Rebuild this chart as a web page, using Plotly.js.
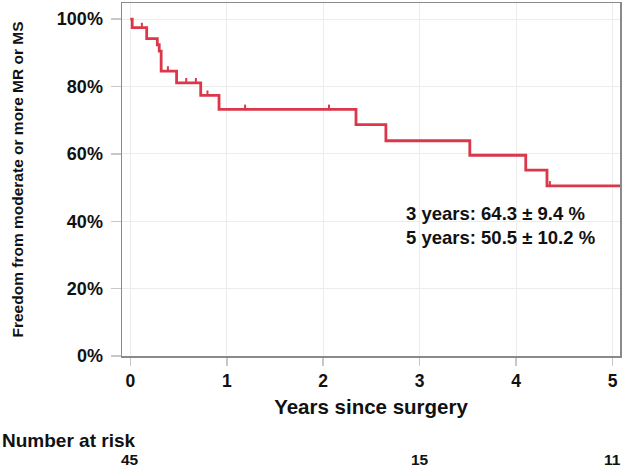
<!DOCTYPE html>
<html>
<head>
<meta charset="utf-8">
<script src="https://cdn.plot.ly/plotly-3.0.1.min.js"></script>
<style>html,body{margin:0;padding:0;background:#fff;}#chart{width:625px;height:469px;}</style>
</head>
<body>
<div id="chart"></div>
<script>
// Kaplan-Meier step curve (years, % event-free)
const stepTimes = [0, 0.02, 0.17, 0.28, 0.30, 0.32, 0.48, 0.73, 0.92, 2.34, 2.65, 3.52, 4.10, 4.32, 5.077];
const stepSurv  = [100, 97.5, 94.2, 92.4, 90.5, 84.6, 81.1, 77.4, 73.2, 68.7, 63.9, 59.6, 55.2, 50.5, 50.5];
// Censored observations
const censorTimes = [0.12, 0.39, 0.58, 0.68, 0.80, 1.19, 2.06, 4.35];
const censorSurv  = [97.5, 84.6, 81.1, 81.1, 77.4, 73.2, 73.2, 50.5];
// Number at risk
const riskTimes = [0, 3, 5];
const riskCounts = ['45', '15', '11'];
const xTicks = [0, 1, 2, 3, 4, 5];
const yTicks = [0, 20, 40, 60, 80, 100];
const yTickText = ['0%', '20%', '40%', '60%', '80%', '100%'];
const summaryLines = ['3 years: 64.3 ± 9.4 %', '5 years: 50.5 ± 10.2 %'];

const red = 'rgb(219,55,75)';
const font = 'Liberation Sans, Arial, sans-serif';

const traces = [
  {x: stepTimes, y: stepSurv, mode: 'lines', line: {shape: 'hv', color: red, width: 2.8}, hoverinfo: 'skip'},
  {x: censorTimes, y: censorSurv.map(v => v + 0.6), mode: 'markers',
   marker: {symbol: 'line-ns', size: 4, line: {color: red, width: 2}}, hoverinfo: 'skip'}
];

const annotations = [];
summaryLines.forEach((t, i) => {
  annotations.push({x: 2.84, y: 42.3 - i * 7.2, xref: 'x', yref: 'y', text: '<b>' + t + '</b>',
    showarrow: false, xanchor: 'left', yanchor: 'middle', font: {family: font, size: 18.5, color: '#111'}});
});
annotations.push({x: 0, xref: 'paper', y: -0.238, yref: 'paper', xanchor: 'left', yanchor: 'middle',
  xshift: -122, text: '<b>Number at risk</b>', showarrow: false, font: {family: font, size: 19, color: '#111'}});
riskTimes.forEach((t, i) => {
  annotations.push({x: t, xref: 'x', y: -0.293, yref: 'paper', xanchor: 'center', yanchor: 'middle',
    text: '<b>' + riskCounts[i] + '</b>', showarrow: false, font: {family: font, size: 15.5, color: '#111'}});
});

const layout = {
  width: 625, height: 469,
  margin: {l: 122, r: 5, t: 3, b: 113, pad: 0},
  paper_bgcolor: '#fff', plot_bgcolor: '#fff',
  showlegend: false,
  font: {family: font, color: '#111'},
  xaxis: {
    range: [-0.086, 5.077], tickvals: xTicks, ticktext: xTicks.map(v => '<b>' + v + '</b>'),
    ticks: 'outside', ticklen: 8, tickcolor: '#c8c8c8', tickwidth: 1.5,
    showgrid: true, gridcolor: '#ececec', gridwidth: 1, zeroline: false,
    showline: true, linecolor: '#8a8a8a', linewidth: 1.5, mirror: true,
    tickfont: {family: font, size: 17.5, color: '#111'},
    title: {text: '<b>Years since surgery</b>', font: {family: font, size: 20.5, color: '#111'}, standoff: 10}
  },
  yaxis: {
    range: [0, 104.8], tickvals: yTicks, ticktext: yTickText.map(v => '<b>' + v + '</b>'),
    ticks: 'outside', ticklen: 10, tickcolor: '#c8c8c8', tickwidth: 1.5, ticklabelstandoff: 4,
    showgrid: true, gridcolor: '#ececec', gridwidth: 1, zeroline: false,
    showline: true, linecolor: '#8a8a8a', linewidth: 1.5, mirror: true,
    tickfont: {family: font, size: 18, color: '#111'},
    title: {text: '<b>Freedom from moderate or more MR or MS</b>', font: {family: font, size: 15.5, color: '#111'}, standoff: 29}
  },
  annotations: annotations
};

Plotly.newPlot('chart', traces, layout, {displayModeBar: false, staticPlot: true});
</script>
</body>
</html>
